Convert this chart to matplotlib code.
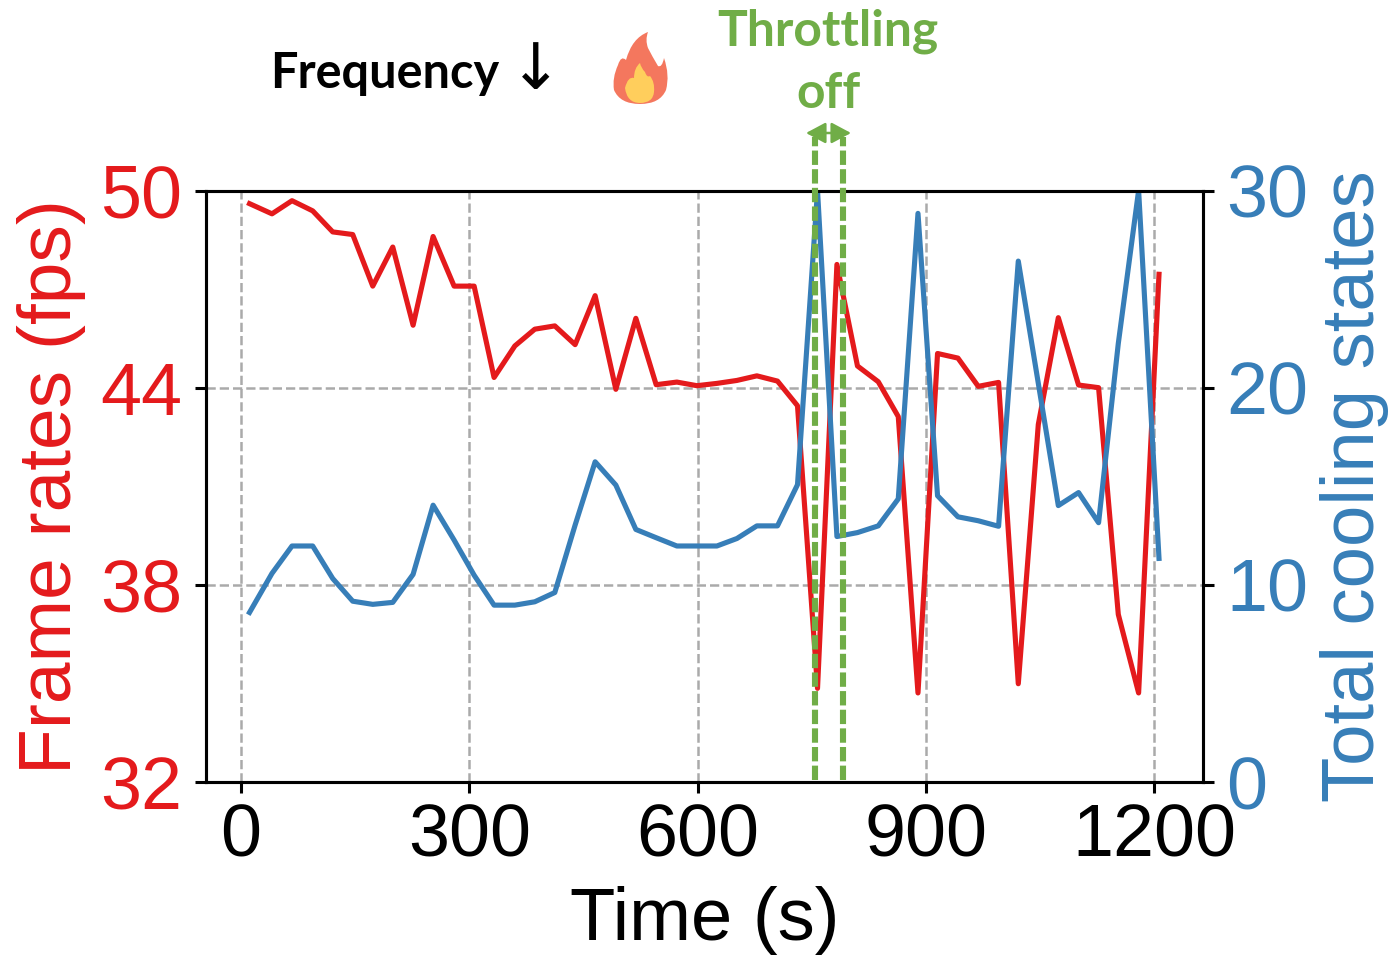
import matplotlib
matplotlib.use("Agg")
import matplotlib.pyplot as plt
from matplotlib.patches import PathPatch, FancyArrowPatch
from matplotlib.path import Path
from matplotlib.transforms import Affine2D

time_s = [11.2, 40.7, 67, 94.2, 120.5, 146.8, 173.1, 199.4, 226.1, 252.4, 280, 306.3,
          332.5, 359.8, 386, 412.3, 439, 465.3, 492.5, 518.8, 545.5, 572.7, 599,
          625.3, 651.6, 677.8, 704.9, 731.2, 757.5, 783, 810, 837.3, 863.6, 889.5, 915.2,
          942, 968.7, 995.4, 1021.3, 1047.6, 1073.9, 1100.5, 1126.8, 1152.7, 1179.4, 1206.2]
frame_rates = [49.6, 49.29, 49.69, 49.38, 48.74, 48.66, 47.09, 48.28, 45.9, 48.6, 47.09, 47.09,
               44.31, 45.27, 45.78, 45.88, 45.31, 46.8, 43.95, 46.11, 44.09, 44.17, 44.06,
               44.13, 44.22, 44.36, 44.2, 43.45, 34.85, 47.75, 44.66, 44.18, 43.12, 34.71, 45.04,
               44.9, 44.04, 44.16, 34.99, 42.88, 46.13, 44.08, 44.0, 37.1, 34.71, 47.45]
cooling_states = [8.6, 10.58, 11.97, 11.97, 10.32, 9.17, 9.01, 9.11, 10.53, 14.04, 12.27, 10.49,
                  8.97, 8.97, 9.14, 9.61, 13.03, 16.24, 15.06, 12.81, 12.39, 11.97, 11.97,
                  11.97, 12.35, 12.99, 12.99, 15.08, 30, 12.45, 12.65, 12.99, 14.36, 28.84, 14.52,
                  13.45, 13.25, 12.97, 26.42, 20.22, 14.02, 14.68, 13.15, 22.24, 30, 11.34]
x_ticks = [0, 300, 600, 900, 1200]
left_ticks = [32, 38, 44, 50]
right_ticks = [0, 10, 20, 30]
throttle_off = [754.5, 791]

RED, BLUE, GREEN, GRID = "#e41a1c", "#377eb8", "#70ad47", "#aaaaaa"
W, H = 1393, 956
plt.rcParams["font.family"] = ["Liberation Sans", "DejaVu Sans"]

fig = plt.figure(figsize=(W / 100, H / 100), dpi=100)
ax = fig.add_axes([206 / W, 1 - 782 / H, (1203 - 206) / W, (782 - 190.5) / H])
ax.set_xlim(-46, 1264)
ax.set_ylim(32, 50)
ax.grid(True, color=GRID, ls="--", lw=1.8)
ax.set_axisbelow(True)
ax.plot(time_s, frame_rates, color=RED, lw=3.7)
ax.set_xticks(x_ticks)
ax.set_yticks(left_ticks)
ax.tick_params(axis="x", labelsize=53, width=2.2, length=8, pad=7, colors="black")
ax.tick_params(axis="y", labelsize=53, width=2.2, length=8, pad=9, labelcolor=RED)
ax.set_xlabel("Time (s)", fontsize=53.5, labelpad=10)
ax.set_ylabel("Frame rates (fps)", fontsize=54, color=RED, labelpad=10)

ax2 = ax.twinx()
ax2.set_ylim(0, 30)
ax2.plot(time_s, cooling_states, color=BLUE, lw=3.7)
ax2.set_yticks(right_ticks)
ax2.tick_params(axis="y", labelsize=53, width=2.2, length=8, pad=9, labelcolor=BLUE)
ax2.set_ylabel("Total cooling states", fontsize=53.5, color=BLUE, labelpad=8)
for a in (ax, ax2):
    for s in a.spines.values():
        s.set_linewidth(2.2)

for x in throttle_off:
    ax2.axvline(x, ymin=0.004, ymax=1.09, color=GREEN, lw=4.4, clip_on=False,
                dashes=(2.35, 0.7), zorder=5)

fig.add_artist(FancyArrowPatch((806 / W, 1 - 133 / H), (851 / W, 1 - 133 / H),
                               transform=fig.transFigure,
                               arrowstyle="<|-|>,head_length=0.6,head_width=0.32", mutation_scale=20,
                               color=GREEN, lw=1.8, shrinkA=0, shrinkB=0))
fig.text(270 / W, 1 - 73 / H, "Frequency", fontsize=35, fontweight="bold",
         family="Lato", va="center", ha="left", color="black")
fig.text(536 / W, 1 - 71 / H, "\u2193", fontsize=46,
         family="DejaVu Sans", va="center", ha="center", color="black")
fig.text(828 / W, 1 - 31 / H, "Throttling", fontsize=35.8, fontweight="bold",
         family="Lato", va="center", ha="center", color=GREEN)
fig.text(828 / W, 1 - 93 / H, "off", fontsize=35.8, fontweight="bold",
         family="Lato", va="center", ha="center", color=GREEN)


def flame(points, color):
    codes = [Path.MOVETO] + [Path.CURVE3] * (len(points) - 1)
    px = Affine2D().scale(1 / W, -1 / H).translate(0, 1) + fig.transFigure
    fig.add_artist(PathPatch(Path(points, codes), facecolor=color, edgecolor="none", transform=px))


flame([(648, 32), (632, 38), (626, 60), (621, 55), (618, 65), (612, 78), (614, 90),
       (620, 104), (640, 104), (660, 104), (666, 90), (670, 75), (664, 58), (662, 68),
       (658, 66), (652, 56), (648, 48), (645, 40), (648, 32)], "#f4775e")
flame([(640, 63), (634, 68), (634, 78), (628, 76), (625, 88), (627, 103), (640, 103),
       (653, 103), (654, 92), (655, 82), (650, 76), (647, 78), (645, 72), (641, 68), (640, 63)], "#ffce5c")

fig.savefig("out.png", dpi=100)
